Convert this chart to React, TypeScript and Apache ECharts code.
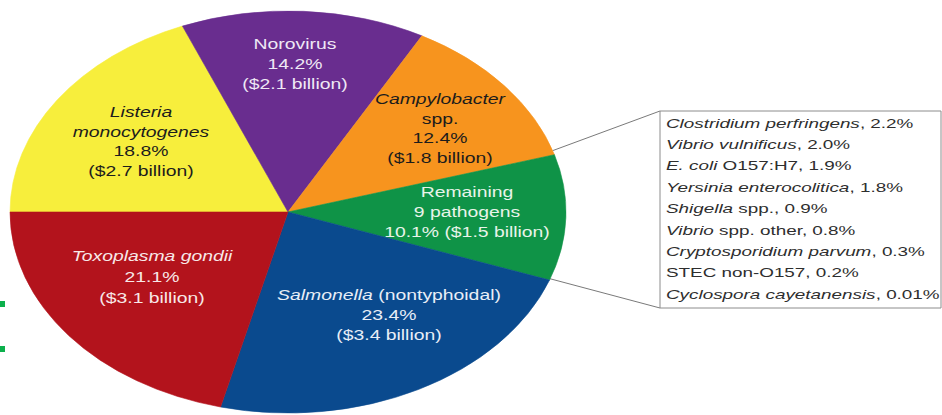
import React, { useEffect, useRef } from 'react';
import * as echarts from 'echarts';

// ---- data ----
const pathogens = [
  'Listeria monocytogenes',
  'Norovirus',
  'Campylobacter spp.',
  'Remaining 9 pathogens',
  'Salmonella (nontyphoidal)',
  'Toxoplasma gondii',
];
const labelNames = [
  '{i|Listeria}\n{i|monocytogenes}',
  'Norovirus',
  '{i|Campylobacter}\nspp.',
  'Remaining\n9 pathogens',
  '{i|Salmonella} (nontyphoidal)',
  '{i|Toxoplasma gondii}',
];
const sharePct = [18.8, 14.2, 12.4, 10.1, 23.4, 21.1];
const costBillion = ['2.7', '2.1', '1.8', '1.5', '3.4', '3.1'];

const otherItalic = [
  'Clostridium perfringens',
  'Vibrio vulnificus',
  'E. coli',
  'Yersinia enterocolitica',
  'Shigella',
  'Vibrio',
  'Cryptosporidium parvum',
  '',
  'Cyclospora cayetanensis',
];
const otherPlain = ['', '', 'O157:H7', '', 'spp.', 'spp. other', '', 'STEC non-O157', ''];
const otherPct = ['2.2', '2.0', '1.9', '1.8', '0.9', '0.8', '0.3', '0.2', '0.01'];

// ---- layout / style ----
const FONT = '"Liberation Sans", Arial, Helvetica, sans-serif';
const CX = 288;
const CY = 212;
const RX = 278;
const RY = 201;
const SX = RX / RY;
const REMAINING_INDEX = 3;
const sliceColors = ['#f7ee3c', '#692d8f', '#f7941e', '#0f9347', '#0a4a8e', '#b3131c'];
const labelColors = ['#1c1c1c', '#efe8f5', '#1c1c1c', '#e8f4ea', '#e8eef7', '#f8e8e8'];
const labelPos = [
  [141, 142],
  [295, 64],
  [440, 129],
  [467, 212],
  [389, 315],
  [152, 277],
];
const labelLH = [19.5, 20, 19.5, 20, 20, 21];
const labelSep = ['\n', '\n', '\n', ' ', '\n', '\n'];
const LABEL_FS = 14;
const BOX = { x: 660, y: 111, w: 281, h: 197 };
const BOX_FS = 13.5;
const BOX_LH = 21.4;

export default function App() {
  const ref = useRef<HTMLDivElement>(null);

  useEffect(() => {
    document.body.style.margin = '0';
    if (!ref.current) return;
    const chart = echarts.init(ref.current, null, { renderer: 'svg' });

    const total = sharePct.reduce((a, b) => a + b, 0);
    const starts: number[] = [];
    let acc = 0;
    sharePct.forEach((v) => {
      starts.push(acc);
      acc += v;
    });
    const angleOf = (cum: number) => Math.PI + (cum / total) * Math.PI * 2;

    const remA0 = angleOf(starts[REMAINING_INDEX]);
    const remA1 = angleOf(starts[REMAINING_INDEX] + sharePct[REMAINING_INDEX]);
    const p0 = [CX + RX * Math.cos(remA0) - 2, CY + RY * Math.sin(remA0) - 4];
    const p1 = [CX + RX * Math.cos(remA1) - 2, CY + RY * Math.sin(remA1) - 2];

    const boxText = otherItalic
      .map((it, k) => {
        let s = it ? `{i|${it}}` : '';
        if (otherPlain[k]) s += (it ? ' ' : '') + otherPlain[k];
        return `${s}, ${otherPct[k]}%`;
      })
      .join('\n');

    const option: any = {
      animation: false,
      backgroundColor: '#ffffff',
      series: [
        {
          type: 'custom',
          coordinateSystem: 'none',
          data: sharePct.map((v, i) => ({ name: pathogens[i], value: [v, starts[i]] })),
          renderItem: (params: any, api: any) => {
            const i = params.dataIndex;
            const v = api.value(0) as number;
            const s = api.value(1) as number;
            const a0 = angleOf(s);
            const a1 = angleOf(s + v);
            const txt = `${labelNames[i]}\n${v.toFixed(1)}%${labelSep[i]}($${costBillion[i]} billion)`;
            return {
              type: 'group',
              children: [
                {
                  type: 'sector',
                  x: CX,
                  y: CY,
                  scaleX: SX,
                  shape: { cx: 0, cy: 0, r0: 0, r: RY, startAngle: a0, endAngle: a1, clockwise: true },
                  style: { fill: sliceColors[i], stroke: sliceColors[i], lineWidth: 0.5 },
                },
                {
                  type: 'text',
                  x: labelPos[i][0],
                  y: labelPos[i][1],
                  scaleX: SX,
                  z2: 10,
                  style: {
                    text: txt,
                    x: 0,
                    y: 0,
                    align: 'center',
                    verticalAlign: 'middle',
                    fill: labelColors[i],
                    fontSize: LABEL_FS,
                    fontFamily: FONT,
                    lineHeight: labelLH[i],
                    rich: {
                      i: {
                        fontStyle: 'italic',
                        fontSize: LABEL_FS,
                        fontFamily: FONT,
                        fill: labelColors[i],
                        lineHeight: labelLH[i],
                      },
                    },
                  },
                },
              ],
            };
          },
        },
      ],
      graphic: [
        {
          type: 'line',
          shape: { x1: p0[0], y1: p0[1], x2: BOX.x, y2: BOX.y },
          style: { stroke: '#7a7a7a', lineWidth: 1 },
        },
        {
          type: 'line',
          shape: { x1: p1[0], y1: p1[1], x2: BOX.x, y2: BOX.y + BOX.h },
          style: { stroke: '#7a7a7a', lineWidth: 1 },
        },
        {
          type: 'rect',
          shape: { x: BOX.x, y: BOX.y, width: BOX.w, height: BOX.h },
          style: { fill: '#ffffff', stroke: '#8c8c8c', lineWidth: 1 },
        },
        {
          type: 'text',
          x: BOX.x + 6,
          y: BOX.y + 1,
          scaleX: SX * 1.01,
          style: {
            text: boxText,
            x: 0,
            y: 0,
            align: 'left',
            verticalAlign: 'top',
            fill: '#2e2e2e',
            fontSize: BOX_FS,
            fontFamily: FONT,
            lineHeight: BOX_LH,
            rich: {
              i: {
                fontStyle: 'italic',
                fontSize: BOX_FS,
                fontFamily: FONT,
                fill: '#2e2e2e',
                lineHeight: BOX_LH,
              },
            },
          },
        },
        { type: 'rect', shape: { x: 0, y: 301, width: 5, height: 6 }, style: { fill: '#0cb04c' } },
        { type: 'rect', shape: { x: 0, y: 346, width: 5, height: 6 }, style: { fill: '#0cb04c' } },
      ],
    };

    chart.setOption(option);
    return () => chart.dispose();
  }, []);

  return <div ref={ref} style={{ width: 942, height: 415 }} />;
}
